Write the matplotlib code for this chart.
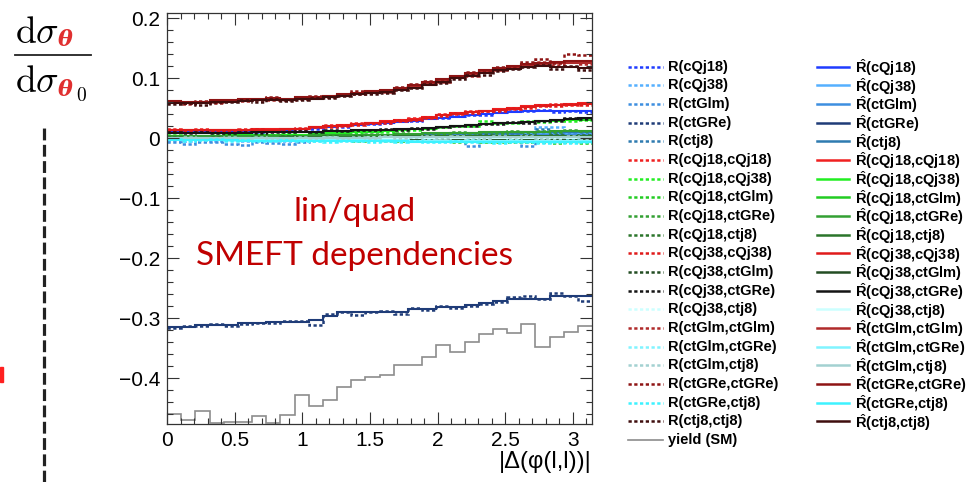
import numpy as np
import matplotlib
matplotlib.use("Agg")
import matplotlib.pyplot as plt
from matplotlib.ticker import MultipleLocator, FuncFormatter
from matplotlib.lines import Line2D
from matplotlib.patches import Rectangle

plt.rcParams['font.family'] = ['Liberation Sans', 'DejaVu Sans']
plt.rcParams['mathtext.fontset'] = 'custom'
plt.rcParams['mathtext.rm'] = 'Liberation Sans'
plt.rcParams['mathtext.bf'] = 'Liberation Sans:bold'

# 30 bins in |dphi(l,l)| from 0 to pi
n_bins = 30
phi_max = np.pi

# SM yield (shape only, shown in arbitrary offset units)
yield_sm = [-0.460, -0.470, -0.455, -0.474, -0.472, -0.472, -0.462, -0.474, -0.461, -0.427,
            -0.446, -0.436, -0.415, -0.403, -0.397, -0.394, -0.378, -0.378, -0.364, -0.345,
            -0.356, -0.339, -0.326, -0.318, -0.325, -0.310, -0.347, -0.331, -0.322, -0.313]

# R-hat (fitted) and R (raw) per coefficient
hat_cQj18 = [0.011, 0.011, 0.011, 0.011, 0.012, 0.012, 0.012, 0.013, 0.014, 0.015, 0.017, 0.019, 0.020, 0.022, 0.024,
             0.025, 0.027, 0.029, 0.032, 0.034, 0.036, 0.038, 0.040, 0.042, 0.044, 0.046, 0.046, 0.046, 0.045, 0.045]
r_cQj18 = [0.012, 0.010, 0.014, 0.011, 0.012, 0.013, 0.011, 0.014, 0.013, 0.016, 0.016, 0.020, 0.019, 0.023, 0.023,
           0.026, 0.028, 0.028, 0.033, 0.033, 0.037, 0.039, 0.039, 0.043, 0.045, 0.045, 0.047, 0.044, 0.046, 0.043]
hat_cQj38 = [0.000, 0.000, 0.000, 0.000, 0.000, 0.001, 0.001, 0.001, 0.001, 0.002, 0.002, 0.002, 0.003, 0.003, 0.003,
             0.004, 0.004, 0.005, 0.005, 0.006, 0.006, 0.006, 0.007, 0.007, 0.008, 0.008, 0.008, 0.009, 0.009, 0.009]
r_cQj38 = [-0.003, -0.005, -0.002, -0.004, -0.003, -0.004, -0.002, -0.003, -0.004, 0.000, 0.002, 0.001, 0.003, 0.004, 0.002,
           0.004, 0.005, 0.004, 0.006, 0.005, 0.007, 0.006, 0.008, 0.006, 0.009, 0.010, 0.019, 0.018, 0.009, 0.010]
hat_ctGlm = [0.001, 0.001, 0.001, 0.001, 0.001, 0.001, 0.001, 0.002, 0.002, 0.002, 0.002, 0.003, 0.003, 0.003, 0.003,
             0.004, 0.004, 0.004, 0.004, 0.005, 0.005, 0.005, 0.005, 0.005, 0.006, 0.006, 0.006, 0.006, 0.006, 0.006]
r_ctGlm = [-0.006, -0.009, -0.006, -0.007, -0.010, -0.011, -0.007, -0.008, -0.010, -0.007, 0.001, 0.002, 0.003, 0.001, 0.004,
           0.003, 0.002, 0.005, 0.004, 0.003, 0.006, -0.013, 0.005, 0.006, 0.004, -0.013, 0.007, 0.006, 0.008, 0.005]
hat_ctGRe = [-0.314, -0.314, -0.311, -0.311, -0.311, -0.308, -0.308, -0.3055, -0.3055, -0.3055, -0.302, -0.296, -0.290, -0.290, -0.290,
             -0.289, -0.289, -0.2845, -0.2845, -0.281, -0.281, -0.278, -0.275, -0.271, -0.268, -0.267, -0.267, -0.263, -0.263, -0.262]
r_ctGRe = [-0.316, -0.312, -0.313, -0.309, -0.312, -0.309, -0.307, -0.307, -0.304, -0.305, -0.311, -0.293, -0.289, -0.294, -0.289,
           -0.287, -0.292, -0.283, -0.286, -0.280, -0.283, -0.279, -0.276, -0.273, -0.264, -0.263, -0.268, -0.257, -0.262, -0.271]
hat_ctj8 = [0.002, 0.002, 0.002, 0.002, 0.002, 0.002, 0.003, 0.003, 0.003, 0.003, 0.004, 0.004, 0.004, 0.005, 0.005,
            0.005, 0.006, 0.006, 0.007, 0.007, 0.008, 0.008, 0.008, 0.009, 0.009, 0.010, 0.010, 0.010, 0.011, 0.011]
r_ctj8 = [0.001, 0.003, 0.002, 0.001, 0.003, 0.002, 0.002, 0.004, 0.003, 0.004, 0.003, 0.005, 0.004, 0.004, 0.006,
          0.005, 0.006, 0.007, 0.006, 0.008, 0.007, 0.009, 0.008, 0.010, 0.009, 0.011, 0.015, 0.009, 0.012, 0.010]

hat_cQj18_cQj18 = [0.014, 0.014, 0.014, 0.014, 0.014, 0.014, 0.015, 0.015, 0.016, 0.016, 0.019, 0.021, 0.022, 0.024, 0.026,
                   0.028, 0.030, 0.032, 0.035, 0.039, 0.042, 0.044, 0.046, 0.048, 0.050, 0.053, 0.055, 0.056, 0.057, 0.058]
r_cQj18_cQj18 = [0.015, 0.013, 0.015, 0.014, 0.013, 0.015, 0.014, 0.016, 0.015, 0.017, 0.018, 0.022, 0.021, 0.025, 0.025,
                 0.029, 0.029, 0.033, 0.034, 0.040, 0.041, 0.045, 0.045, 0.049, 0.049, 0.054, 0.054, 0.057, 0.056, 0.059]
hat_cQj18_cQj38 = [0.004, 0.004, 0.004, 0.004, 0.005, 0.005, 0.005, 0.005, 0.006, 0.006, 0.007, 0.008, 0.009, 0.010, 0.011,
                   0.012, 0.013, 0.015, 0.016, 0.018, 0.020, 0.022, 0.024, 0.025, 0.026, 0.027, 0.028, 0.029, 0.030, 0.030]
r_cQj18_cQj38 = [0.005, 0.003, 0.004, 0.005, 0.004, 0.006, 0.005, 0.004, 0.007, 0.006, 0.008, 0.007, 0.010, 0.009, 0.012,
                 0.011, 0.014, 0.014, 0.017, 0.018, 0.021, 0.021, 0.028, 0.026, 0.025, 0.028, 0.027, 0.030, 0.029, 0.031]
hat_cQj18_ctGlm = [0.000, 0.000, 0.000, -0.001, -0.001, -0.001, -0.001, -0.001, -0.002, -0.002, -0.002, -0.002, -0.003, -0.003, -0.003,
                   -0.004, -0.004, -0.004, -0.004, -0.005, -0.005, -0.005, -0.006, -0.006, -0.006, -0.006, -0.007, -0.007, -0.007, -0.007]
r_cQj18_ctGlm = [0.001, -0.001, 0.000, -0.001, 0.000, -0.002, -0.001, -0.002, -0.001, -0.003, -0.002, -0.003, -0.002, -0.004, -0.003,
                 -0.004, -0.005, -0.004, -0.005, -0.004, -0.006, -0.005, -0.006, -0.007, -0.006, -0.007, -0.006, -0.008, -0.007, -0.008]
hat_cQj18_ctGRe = [0.003, 0.003, 0.003, 0.003, 0.003, 0.003, 0.004, 0.004, 0.004, 0.004, 0.005, 0.005, 0.005, 0.006, 0.006,
                   0.006, 0.007, 0.007, 0.008, 0.008, 0.009, 0.009, 0.010, 0.010, 0.011, 0.011, 0.011, 0.012, 0.012, 0.012]
r_cQj18_ctGRe = [0.004, 0.002, 0.003, 0.004, 0.002, 0.004, 0.003, 0.005, 0.004, 0.003, 0.006, 0.004, 0.006, 0.005, 0.007,
                 0.006, 0.008, 0.006, 0.009, 0.007, 0.010, 0.008, 0.011, 0.009, 0.012, 0.010, 0.012, 0.011, 0.013, 0.012]
hat_cQj18_ctj8 = [0.001, 0.001, 0.001, 0.001, 0.001, 0.001, 0.001, 0.001, 0.002, 0.002, 0.002, 0.002, 0.002, 0.002, 0.002,
                  0.003, 0.003, 0.003, 0.003, 0.003, 0.003, 0.003, 0.004, 0.004, 0.004, 0.004, 0.004, 0.004, 0.004, 0.004]
r_cQj18_ctj8 = [0.002, 0.000, 0.001, 0.002, 0.001, 0.000, 0.002, 0.001, 0.003, 0.001, 0.002, 0.003, 0.001, 0.003, 0.002,
                0.004, 0.002, 0.003, 0.004, 0.002, 0.004, 0.003, 0.005, 0.003, 0.004, 0.005, 0.003, 0.005, 0.004, 0.005]
hat_cQj38_cQj38 = [0.013, 0.013, 0.013, 0.013, 0.013, 0.013, 0.014, 0.014, 0.015, 0.015, 0.018, 0.020, 0.021, 0.023, 0.025,
                   0.027, 0.029, 0.031, 0.034, 0.038, 0.041, 0.043, 0.045, 0.047, 0.049, 0.052, 0.054, 0.055, 0.056, 0.057]
r_cQj38_cQj38 = [0.012, 0.014, 0.013, 0.012, 0.014, 0.013, 0.015, 0.013, 0.016, 0.014, 0.019, 0.019, 0.022, 0.022, 0.026,
                 0.026, 0.030, 0.030, 0.035, 0.037, 0.042, 0.042, 0.046, 0.046, 0.050, 0.051, 0.055, 0.054, 0.057, 0.056]
hat_cQj38_ctGlm = [0.000, 0.000, 0.000, 0.000, 0.000, 0.000, 0.000, 0.000, -0.001, -0.001, -0.001, -0.001, -0.001, -0.001, -0.001,
                   -0.001, -0.001, -0.001, -0.002, -0.002, -0.002, -0.002, -0.002, -0.002, -0.002, -0.002, -0.002, -0.002, -0.002, -0.002]
r_cQj38_ctGlm = [0.001, -0.001, 0.000, 0.001, -0.001, 0.000, -0.001, 0.001, -0.002, 0.000, -0.001, -0.002, 0.000, -0.002, -0.001,
                 -0.002, 0.000, -0.002, -0.001, -0.003, -0.002, -0.001, -0.003, -0.002, -0.001, -0.003, -0.002, -0.003, -0.001, -0.002]
hat_cQj38_ctGRe = [0.009, 0.009, 0.009, 0.009, 0.009, 0.009, 0.010, 0.010, 0.010, 0.011, 0.011, 0.012, 0.012, 0.013, 0.013,
                   0.014, 0.015, 0.016, 0.017, 0.018, 0.020, 0.022, 0.023, 0.025, 0.026, 0.027, 0.028, 0.030, 0.032, 0.033]
r_cQj38_ctGRe = [0.010, 0.008, 0.010, 0.009, 0.008, 0.010, 0.009, 0.011, 0.010, 0.012, 0.011, 0.013, 0.012, 0.014, 0.013,
                 0.015, 0.014, 0.017, 0.016, 0.019, 0.021, 0.021, 0.024, 0.024, 0.027, 0.026, 0.029, 0.029, 0.033, 0.032]
hat_cQj38_ctj8 = [0.000, 0.000, 0.000, 0.000, 0.000, 0.000, 0.000, 0.000, 0.000, 0.000, 0.001, 0.001, 0.001, 0.001, 0.001,
                  0.001, 0.001, 0.001, 0.001, 0.001, 0.001, 0.001, 0.001, 0.001, 0.001, 0.001, 0.001, 0.001, 0.001, 0.001]
r_cQj38_ctj8 = [-0.001, 0.001, 0.000, -0.001, 0.001, 0.000, 0.001, -0.001, 0.000, 0.001, 0.000, 0.002, 0.001, 0.000, 0.002,
                0.001, 0.000, 0.002, 0.001, 0.000, 0.002, 0.001, 0.000, 0.002, 0.001, 0.002, 0.000, 0.001, 0.002, 0.001]
hat_ctGlm_ctGlm = [0.060, 0.059, 0.058, 0.061, 0.062, 0.063, 0.064, 0.065, 0.063, 0.066, 0.067, 0.069, 0.072, 0.074, 0.076,
                   0.078, 0.082, 0.086, 0.091, 0.096, 0.102, 0.106, 0.111, 0.115, 0.118, 0.122, 0.124, 0.125, 0.126, 0.126]
r_ctGlm_ctGlm = [0.061, 0.057, 0.060, 0.060, 0.064, 0.062, 0.066, 0.064, 0.065, 0.065, 0.069, 0.068, 0.074, 0.073, 0.078,
                 0.077, 0.084, 0.085, 0.093, 0.094, 0.104, 0.104, 0.113, 0.113, 0.121, 0.120, 0.127, 0.122, 0.129, 0.124]
hat_ctGlm_ctGRe = [-0.002, -0.002, -0.002, -0.002, -0.002, -0.002, -0.002, -0.002, -0.003, -0.003, -0.003, -0.003, -0.003, -0.003, -0.003,
                   -0.003, -0.003, -0.004, -0.004, -0.004, -0.004, -0.004, -0.004, -0.004, -0.004, -0.004, -0.004, -0.004, -0.004, -0.004]
r_ctGlm_ctGRe = [-0.001, -0.003, -0.002, -0.001, -0.003, -0.002, -0.003, -0.001, -0.003, -0.002, -0.004, -0.002, -0.003, -0.004, -0.002,
                 -0.004, -0.003, -0.005, -0.003, -0.004, -0.005, -0.003, -0.005, -0.004, -0.003, -0.005, -0.004, -0.005, -0.003, -0.004]
hat_ctGlm_ctj8 = [0.001, 0.001, 0.001, 0.001, 0.001, 0.001, 0.001, 0.001, 0.001, 0.001, 0.001, 0.001, 0.001, 0.001, 0.001,
                  0.002, 0.002, 0.002, 0.002, 0.002, 0.002, 0.002, 0.002, 0.002, 0.002, 0.002, 0.002, 0.002, 0.002, 0.002]
r_ctGlm_ctj8 = [0.000, 0.002, 0.001, 0.000, 0.002, 0.001, 0.002, 0.000, 0.001, 0.002, 0.000, 0.002, 0.001, 0.002, 0.000,
                0.003, 0.001, 0.002, 0.003, 0.001, 0.003, 0.002, 0.001, 0.003, 0.002, 0.003, 0.001, 0.002, 0.003, 0.002]
hat_ctGRe_ctGRe = [0.062, 0.061, 0.060, 0.063, 0.064, 0.065, 0.066, 0.067, 0.065, 0.068, 0.069, 0.071, 0.074, 0.076, 0.078,
                   0.080, 0.084, 0.088, 0.093, 0.098, 0.104, 0.108, 0.113, 0.117, 0.120, 0.124, 0.126, 0.127, 0.128, 0.128]
r_ctGRe_ctGRe = [0.060, 0.058, 0.062, 0.059, 0.063, 0.066, 0.064, 0.068, 0.064, 0.067, 0.071, 0.070, 0.073, 0.078, 0.077,
                 0.079, 0.086, 0.090, 0.095, 0.096, 0.103, 0.111, 0.112, 0.118, 0.119, 0.127, 0.132, 0.125, 0.141, 0.138]
hat_ctGRe_ctj8 = [-0.003, -0.003, -0.003, -0.003, -0.003, -0.004, -0.004, -0.004, -0.004, -0.004, -0.004, -0.005, -0.005, -0.005, -0.005,
                  -0.005, -0.005, -0.006, -0.006, -0.006, -0.006, -0.006, -0.006, -0.007, -0.007, -0.007, -0.007, -0.007, -0.007, -0.007]
r_ctGRe_ctj8 = [-0.002, -0.004, -0.003, -0.002, -0.004, -0.003, -0.005, -0.004, -0.003, -0.005, -0.004, -0.006, -0.004, -0.005, -0.006,
                -0.004, -0.006, -0.005, -0.007, -0.006, -0.005, -0.007, -0.006, -0.008, -0.006, -0.007, -0.008, -0.006, -0.008, -0.007]
hat_ctj8_ctj8 = [0.059, 0.058, 0.058, 0.060, 0.061, 0.062, 0.063, 0.064, 0.063, 0.065, 0.066, 0.068, 0.071, 0.073, 0.075,
                 0.077, 0.080, 0.084, 0.089, 0.094, 0.100, 0.104, 0.109, 0.113, 0.116, 0.119, 0.121, 0.119, 0.118, 0.117]
r_ctj8_ctj8 = [0.057, 0.059, 0.056, 0.061, 0.060, 0.063, 0.061, 0.065, 0.062, 0.064, 0.067, 0.067, 0.070, 0.074, 0.074,
               0.076, 0.081, 0.083, 0.091, 0.092, 0.098, 0.105, 0.106, 0.112, 0.115, 0.118, 0.122, 0.116, 0.120, 0.113]

names = ['cQj18', 'cQj38', 'ctGlm', 'ctGRe', 'ctj8',
         'cQj18,cQj18', 'cQj18,cQj38', 'cQj18,ctGlm', 'cQj18,ctGRe', 'cQj18,ctj8',
         'cQj38,cQj38', 'cQj38,ctGlm', 'cQj38,ctGRe', 'cQj38,ctj8',
         'ctGlm,ctGlm', 'ctGlm,ctGRe', 'ctGlm,ctj8', 'ctGRe,ctGRe', 'ctGRe,ctj8', 'ctj8,ctj8']
hat_vals = [hat_cQj18, hat_cQj38, hat_ctGlm, hat_ctGRe, hat_ctj8,
            hat_cQj18_cQj18, hat_cQj18_cQj38, hat_cQj18_ctGlm, hat_cQj18_ctGRe, hat_cQj18_ctj8,
            hat_cQj38_cQj38, hat_cQj38_ctGlm, hat_cQj38_ctGRe, hat_cQj38_ctj8,
            hat_ctGlm_ctGlm, hat_ctGlm_ctGRe, hat_ctGlm_ctj8, hat_ctGRe_ctGRe, hat_ctGRe_ctj8, hat_ctj8_ctj8]
r_vals = [r_cQj18, r_cQj38, r_ctGlm, r_ctGRe, r_ctj8,
          r_cQj18_cQj18, r_cQj18_cQj38, r_cQj18_ctGlm, r_cQj18_ctGRe, r_cQj18_ctj8,
          r_cQj38_cQj38, r_cQj38_ctGlm, r_cQj38_ctGRe, r_cQj38_ctj8,
          r_ctGlm_ctGlm, r_ctGlm_ctGRe, r_ctGlm_ctj8, r_ctGRe_ctGRe, r_ctGRe_ctj8, r_ctj8_ctj8]
colors = ['#1f3cff', '#55b0ff', '#3d8fe0', '#1f3c78', '#2e7bb0',
          '#f02020', '#22ee22', '#22cc22', '#33a033', '#2b752b',
          '#e01a1a', '#234d23', '#141414', '#ccffff',
          '#b02a2a', '#80f4ff', '#a3d1d1', '#8e1414', '#3df2ff', '#3f0d0d']
yield_color = '#8c8c8c'

W, H = 972, 482
fig = plt.figure(figsize=(W / 100, H / 100), dpi=100)
ax = fig.add_axes([167 / W, 1 - 424 / H, 425 / W, 411.3 / H])

edges = np.linspace(0, phi_max, n_bins + 1)
dot = (0, (1.3, 1.0))

for hv, rv, c in zip(hat_vals, r_vals, colors):
    ax.stairs(rv, edges, color=c, lw=1.8, linestyle=dot, baseline=None)
    ax.stairs(hv, edges, color=c, lw=1.5, baseline=None)
ax.stairs(yield_sm, edges, color=yield_color, lw=1.2, baseline=None)

ax.set_xlim(0, phi_max)
ax.set_ylim(-0.476, 0.209)
ax.xaxis.set_major_locator(MultipleLocator(0.5))
ax.xaxis.set_minor_locator(MultipleLocator(0.1))
ax.yaxis.set_major_locator(MultipleLocator(0.1))
ax.yaxis.set_minor_locator(MultipleLocator(0.02))
fmt = FuncFormatter(lambda v, p: '0' if abs(v) < 1e-9 else ('%g' % round(v, 2)).replace('-', '\u2212'))
ax.xaxis.set_major_formatter(fmt)
ax.yaxis.set_major_formatter(fmt)
ax.tick_params(which='both', direction='in', top=True, right=True, width=0.8, color='#333333')
ax.tick_params(which='major', length=8.5, labelsize=15, pad=5)
ax.tick_params(which='minor', length=4.5)
for s in ax.spines.values():
    s.set_linewidth(0.9)
    s.set_color('#333333')
ax.set_xlabel('|\u0394(\u03c6(l,l))|', fontsize=17, loc='right', labelpad=1)

# annotation inside the frame
fig.text(355 / W, 1 - 221 / H, 'lin/quad', color='#c00000', fontsize=24,
         family='Lato', ha='center', va='baseline')
fig.text(355 / W, 1 - 265 / H, 'SMEFT dependencies', color='#c00000', fontsize=24,
         family='Lato', ha='center', va='baseline')

# legend drawn row by row (two columns, fixed row pitch like ROOT's TLegend)
row0, pitch = 66.5, 18.68
col1 = [r'R(%s)' % n for n in names] + ['yield (SM)']
col1_style = [(c, dot, 1.8) for c in colors] + [(yield_color, '-', 1.2)]
for i, (lab, (c, ls, lw)) in enumerate(zip(col1, col1_style)):
    y = 1 - (row0 + i * pitch) / H
    fig.add_artist(Line2D([628 / W, 663 / W], [y, y], color=c, lw=lw, linestyle=ls))
    fig.text(668 / W, y, lab, fontsize=10.5, weight='bold', va='center')
for i, (n, c) in enumerate(zip(names, colors)):
    y = 1 - (row0 + i * pitch) / H
    fig.add_artist(Line2D([817 / W, 849 / W], [y, y], color=c, lw=1.8))
    fig.text(855 / W, y - 1 / H, r'$\hat{\mathbf{R}}$(%s)' % n, fontsize=10.5, weight='bold', va='center')

# fraction label top left
fig.text(15 / W, 1 - 43 / H, r'$\mathrm{d}\sigma$', fontsize=27, va='baseline', math_fontfamily='cm')
fig.text(58 / W, 1 - 46 / H, '\u03b8', fontsize=16, va='baseline', color='#e03030',
         family='DejaVu Serif', style='italic', weight='bold')
fig.add_artist(Line2D([15 / W, 91 / W], [1 - 55 / H, 1 - 55 / H], color='#222222', lw=1.3))
fig.text(15 / W, 1 - 92 / H, r'$\mathrm{d}\sigma$', fontsize=27, va='baseline', math_fontfamily='cm')
fig.text(58 / W, 1 - 96 / H, '\u03b8', fontsize=16, va='baseline', color='#e03030',
         family='DejaVu Serif', style='italic', weight='bold')
fig.text(76 / W, 1 - 101 / H, r'$0$', fontsize=14, va='baseline', math_fontfamily='cm')

# dashed separator and clipped red mark on the left edge
fig.add_artist(Line2D([44 / W, 44 / W], [0, 1 - 125 / H], color='#222222', lw=2.3,
                      linestyle=(0, (3.7, 1.4))))
fig.add_artist(Rectangle((0, 1 - 382 / H), 2.5 / W, 15 / H, color='#ff2020', transform=fig.transFigure))

fig.savefig('out.png', dpi=100)
